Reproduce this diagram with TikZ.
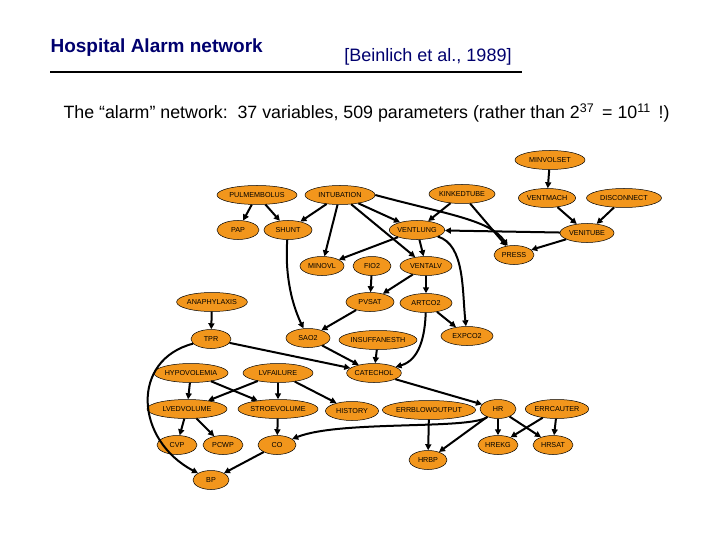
\documentclass[tikz,border=0pt]{standalone}
\usepackage{fontspec}
\setmainfont{Liberation Sans}
\usetikzlibrary{shapes.geometric,arrows.meta}
\definecolor{nodeor}{RGB}{242,150,28}
\definecolor{navy}{RGB}{0,0,110}
\begin{document}
\begin{tikzpicture}[x=1pt,y=-1pt,
  n/.style={ellipse,draw=black,line width=0.5pt,fill=nodeor,inner sep=0pt,minimum height=19pt,font=\fontsize{7.2}{8}\selectfont,text depth=0pt},
  e/.style={-{Triangle[length=6pt,width=6pt]},line width=2pt}]
\useasboundingbox (0,0) rectangle (720,540);
\node[anchor=west,font=\fontsize{19}{22}\selectfont\bfseries,text=navy] (t1) at (47,48) {Hospital Alarm network};
\node[font=\fontsize{18}{22}\selectfont,text=navy] (t2) at (428,57) {[Beinlich et al., 1989]};
\draw[line width=2.5pt] (50,72) -- (522,72);
\node[anchor=west,font=\fontsize{17.8}{22}\selectfont] (t3) at (60,113) {The ``alarm'' network:\ \ 37 variables, 509 parameters (rather than 2\textsuperscript{37}\, = 10\textsuperscript{11}\, !)};
\node[n,minimum width=70pt] (minvolset) at (550,160) {MINVOLSET};
\node[n,minimum width=80pt] (pulm) at (257,195) {PULMEMBOLUS};
\node[n,minimum width=70pt] (intub) at (340,195) {INTUBATION};
\node[n,minimum width=66pt] (kink) at (462,194) {KINKEDTUBE};
\node[n,minimum width=56pt] (ventmach) at (547,198) {VENTMACH};
\node[n,minimum width=75pt] (disc) at (624,198) {DISCONNECT};
\node[n,minimum width=42pt] (pap) at (238,230) {PAP};
\node[n,minimum width=48pt] (shunt) at (288,230) {SHUNT};
\node[n,minimum width=52pt] (ventlung) at (417,230) {VENTLUNG};
\node[n,minimum width=54pt] (venitube) at (587,233) {VENITUBE};
\node[n,minimum width=40pt] (press) at (514,255) {PRESS};
\node[n,minimum width=44pt] (minovl) at (322,266) {MINOVL};
\node[n,minimum width=38pt] (fio2) at (372,266) {FIO2};
\node[n,minimum width=52pt] (ventalv) at (426,266) {VENTALV};
\node[n,minimum width=70pt] (anaph) at (212,302) {ANAPHYLAXIS};
\node[n,minimum width=48pt] (pvsat) at (370,302) {PVSAT};
\node[n,minimum width=52pt] (artco2) at (426,303) {ARTCO2};
\node[n,minimum width=40pt] (tpr) at (211,339) {TPR};
\node[n,minimum width=44pt] (sao2) at (308,338) {SAO2};
\node[n,minimum width=78pt] (insuff) at (378,340) {INSUFFANESTH};
\node[n,minimum width=52pt] (expco2) at (467,336) {EXPCO2};
\node[n,minimum width=65pt] (hypo) at (191,373) {HYPOVOLEMIA};
\node[n,minimum width=70pt] (lvfail) at (278,373) {LVFAILURE};
\node[n,minimum width=54pt] (catechol) at (374,373) {CATECHOL};
\node[n,minimum width=80pt] (lvedv) at (187,409) {LVEDVOLUME};
\node[n,minimum width=80pt] (stroke) at (278,409) {STROEVOLUME};
\node[n,minimum width=53pt] (history) at (352,411) {HISTORY};
\node[n,minimum width=91pt] (errblow) at (429,410) {ERRBLOWOUTPUT};
\node[n,minimum width=36pt] (hr) at (498,409) {HR};
\node[n,minimum width=60pt] (errcau) at (557,409) {ERRCAUTER};
\node[n,minimum width=40pt] (cvp) at (177,445) {CVP};
\node[n,minimum width=40pt] (pcwp) at (223,445) {PCWP};
\node[n,minimum width=38pt] (co) at (277,445) {CO};
\node[n,minimum width=40pt] (hrekg) at (498,445) {HREKG};
\node[n,minimum width=40pt] (hrsat) at (553,445) {HRSAT};
\node[n,minimum width=38pt] (hrbp) at (428,460) {HRBP};
\node[n,minimum width=36pt] (bp) at (211,480) {BP};
\draw[e] (pulm) -- (pap);
\draw[e] (pulm) -- (shunt);
\draw[e] (intub) -- (shunt);
\draw[e] (intub) -- (minovl);
\draw[e] (intub) -- (ventalv);
\draw[e] (intub) -- (ventlung);
\draw[e] (intub.east) .. controls (450,215) and (490,220) .. (press);
\draw[e] (kink) -- (ventlung);
\draw[e] (kink) -- (press);
\draw[e] (minvolset) -- (ventmach);
\draw[e] (ventmach) -- (venitube);
\draw[e] (disc) -- (venitube);
\draw[e] (venitube) -- (ventlung);
\draw[e] (venitube) -- (press);
\draw[e] (ventlung) -- (minovl);
\draw[e] (ventlung) -- (ventalv);
\draw[e] (ventlung) .. controls (465,245) and (462,290) .. (expco2);
\draw[e] (fio2) -- (pvsat);
\draw[e] (ventalv) -- (pvsat);
\draw[e] (ventalv) -- (artco2);
\draw[e] (artco2) -- (expco2);
\draw[e] (artco2) .. controls (425,335) and (420,360) .. (catechol);
\draw[e] (pvsat) -- (sao2);
\draw[e] (shunt) .. controls (285,270) and (290,300) .. (sao2);
\draw[e] (anaph) -- (tpr);
\draw[e] (tpr) -- (catechol);
\draw[e] (tpr) .. controls (130,360) and (135,440) .. (bp);
\draw[e] (sao2) -- (catechol);
\draw[e] (insuff) -- (catechol);
\draw[e] (catechol) -- (hr);
\draw[e] (hypo) -- (lvedv);
\draw[e] (hypo) -- (stroke);
\draw[e] (lvfail) -- (lvedv);
\draw[e] (lvfail) -- (stroke);
\draw[e] (lvfail) -- (history);
\draw[e] (lvedv) -- (cvp);
\draw[e] (lvedv) -- (pcwp);
\draw[e] (stroke) -- (co);
\draw[e] (co) -- (bp);
\draw[e] (hr) .. controls (470,430) and (340,420) .. (co);
\draw[e] (errblow) -- (hrbp);
\draw[e] (hr) -- (hrbp);
\draw[e] (hr) -- (hrekg);
\draw[e] (hr) -- (hrsat);
\draw[e] (errcau) -- (hrekg);
\draw[e] (errcau) -- (hrsat);
\end{tikzpicture}
\end{document}
